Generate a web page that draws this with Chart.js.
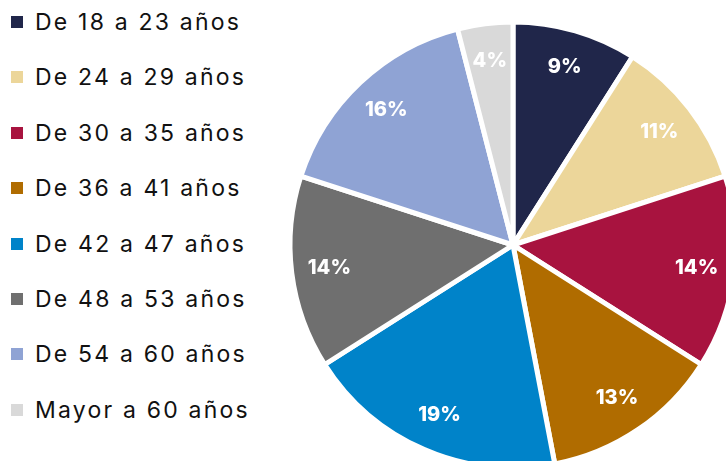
<!DOCTYPE html>
<html>
<head>
<meta charset="utf-8">
<script src="https://cdn.jsdelivr.net/npm/chart.js@4/dist/chart.umd.min.js"></script>
<style>
  html, body { margin: 0; padding: 0; background: #fff; width: 726px; height: 461px; overflow: hidden; }
  #legend { position: absolute; left: 11px; top: 0; font-family: Inter, "Noto Sans", sans-serif; font-size: 23px; letter-spacing: 2.2px; color: #111; }
  #legend .row { position: absolute; left: 0; white-space: nowrap; height: 30px; line-height: 30px; }
  #legend .sq { position: absolute; left: 0; top: 9px; width: 12px; height: 12px; }
  #legend .txt { position: absolute; left: 24px; top: 0; }
  #pieBox { position: absolute; left: 263px; top: -5px; width: 500px; height: 500px; }
</style>
</head>
<body>
<div id="legend"></div>
<div id="pieBox"><canvas id="pie" width="500" height="500"></canvas></div>
<script>
// datos
const categorias = ['De 18 a 23 años', 'De 24 a 29 años', 'De 30 a 35 años', 'De 36 a 41 años',
  'De 42 a 47 años', 'De 48 a 53 años', 'De 54 a 60 años', 'Mayor a 60 años'];
const porcentajes = [9, 11, 14, 13, 19, 14, 16, 4];
const colores = ['#20264a', '#ecd69a', '#a8133f', '#b06c00', '#0083c9', '#6f6f6f', '#8fa3d4', '#d9d9d9'];

// leyenda html
const legendEl = document.getElementById('legend');
categorias.forEach((c, i) => {
  const row = document.createElement('div');
  row.className = 'row';
  row.style.top = (7 + i * 55.4) + 'px';
  row.innerHTML = '<span class="sq" style="background:' + colores[i] + '"></span><span class="txt">' + c + '</span>';
  legendEl.appendChild(row);
});

// etiquetas dentro de las porciones
const labelsPlugin = {
  id: 'pctLabels',
  afterDatasetsDraw(chart) {
    const ctx = chart.ctx;
    const meta = chart.getDatasetMeta(0);
    ctx.save();
    ctx.font = '800 20px Inter, "Noto Sans", sans-serif';
    ctx.fillStyle = '#fff';
    ctx.textAlign = 'center';
    ctx.textBaseline = 'middle';
    meta.data.forEach((arc, i) => {
      const p = arc.getProps(['x', 'y', 'startAngle', 'endAngle', 'outerRadius'], true);
      const a = (p.startAngle + p.endAngle) / 2;
      const r = p.outerRadius * 0.83;
      ctx.fillText(porcentajes[i] + '%', p.x + Math.cos(a) * r, p.y + Math.sin(a) * r);
    });
    ctx.restore();
  }
};

new Chart(document.getElementById('pie'), {
  type: 'pie',
  data: {
    labels: categorias,
    datasets: [{
      data: porcentajes,
      backgroundColor: colores,
      borderColor: '#fff',
      borderWidth: 5
    }]
  },
  options: {
    responsive: false,
    animation: false,
    radius: 223,
    layout: { padding: 0 },
    plugins: { legend: { display: false }, tooltip: { enabled: false } }
  },
  plugins: [labelsPlugin]
});
</script>
</body>
</html>
